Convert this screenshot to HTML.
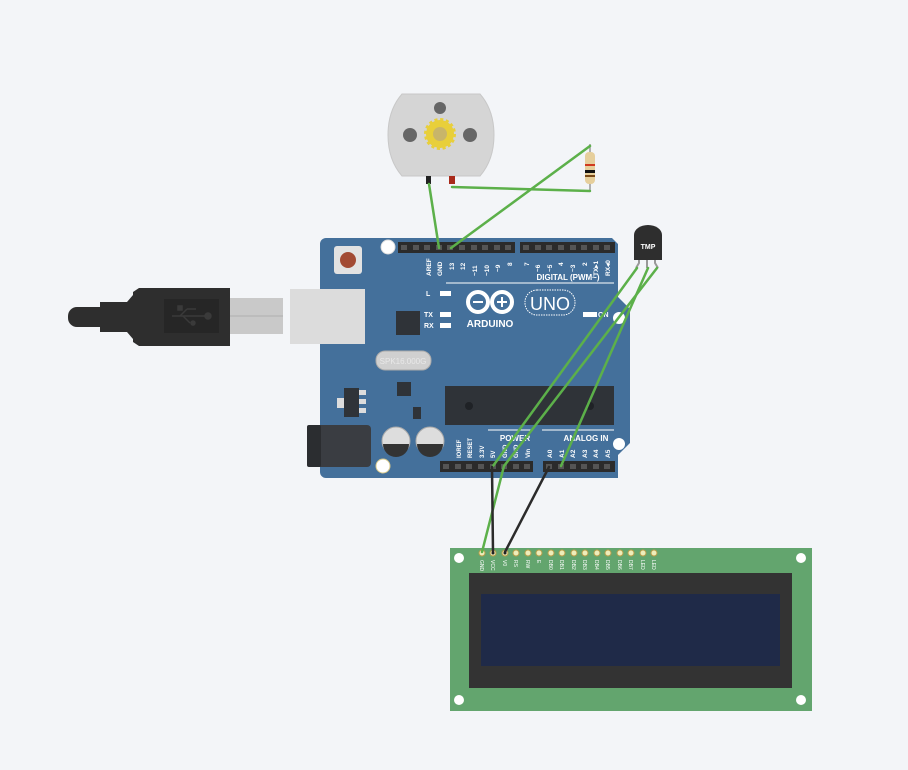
<!DOCTYPE html>
<html><head><meta charset="utf-8"><style>
html,body{margin:0;padding:0;background:#f3f5f8;}
svg{display:block;font-family:"Liberation Sans",sans-serif;}
</style></head><body>
<svg width="908" height="770" viewBox="0 0 908 770">
<rect width="908" height="770" fill="#f3f5f8"/>

<!-- USB cable -->
<path d="M68,316 a9,9 0 0 1 9,-9 h23 v-5 h27 l6,-7 v-3 l6,-4 h91 v58 h-91 l-6,-4 v-3 l-6,-7 h-27 v-5 h-23 a9,9 0 0 1 -9,-9z" fill="#2e2e2e"/>
<rect x="164" y="299" width="55" height="34" fill="#262626"/>
<g stroke="#3a3a3a" stroke-width="1.5" fill="#3a3a3a">
<line x1="172" y1="316" x2="208" y2="316"/><circle cx="208" cy="316" r="3"/>
<line x1="180" y1="316" x2="187" y2="309"/><line x1="187" y1="309" x2="196" y2="309"/><rect x="178" y="306" width="4" height="4"/>
<line x1="183" y1="316" x2="190" y2="323"/><circle cx="193" cy="323" r="2"/></g>
<rect x="230" y="298" width="53" height="36" fill="#c9c9c9"/>
<line x1="230" y1="316" x2="283" y2="316" stroke="#b0b0b0"/>

<!-- Arduino board -->
<path d="M326,238 H612 l6,6 V297 l12,12 V443 l-12,12 V478 H326 a6,6 0 0 1 -6,-6 V244 a6,6 0 0 1 6,-6z" fill="#44709b"/>
<rect x="290" y="289" width="75" height="55" fill="#dcdcdc"/>
<rect x="334" y="246" width="28" height="28" rx="3" fill="#e2e2e2"/>
<circle cx="348" cy="260" r="8" fill="#a24a33"/>
<circle cx="388" cy="247" r="7" fill="#fff" stroke="#ddd"/>
<circle cx="619" cy="318" r="6" fill="#fff"/>
<circle cx="619" cy="444" r="6" fill="#fff"/>
<circle cx="383" cy="466" r="7" fill="#fff" stroke="#d8c98a"/>
<rect x="396" y="311" width="24" height="24" fill="#2f3338"/>
<rect x="376" y="351" width="55" height="19" rx="9" fill="#d0d0d0" stroke="#aaa"/>
<text x="403" y="364" font-size="8" fill="#e8e8e8" text-anchor="middle">SPK16.000G</text>
<rect x="397" y="382" width="14" height="14" fill="#2f3338"/>
<rect x="344" y="388" width="15" height="29" fill="#2f3338"/>
<rect x="337" y="398" width="7" height="10" fill="#ddd"/>
<rect x="359" y="390" width="7" height="5" fill="#ddd"/><rect x="359" y="399" width="7" height="5" fill="#ddd"/><rect x="359" y="408" width="7" height="5" fill="#ddd"/>
<rect x="413" y="407" width="8" height="12" fill="#2f3338"/>
<rect x="307" y="425" width="64" height="42" rx="4" fill="#3a3d42"/>
<rect x="307" y="425" width="14" height="42" rx="2" fill="#2b2d30"/>
<circle cx="396" cy="441" r="14" fill="#ddd" stroke="#aaa"/>
<path d="M383,444 a13,13 0 0 0 26,0z" fill="#333"/>
<circle cx="430" cy="441" r="14" fill="#ddd" stroke="#aaa"/>
<path d="M417,444 a13,13 0 0 0 26,0z" fill="#333"/>
<rect x="445" y="386" width="169" height="39" fill="#2f3338"/>
<circle cx="469" cy="406" r="4" fill="#1f2226"/><circle cx="590" cy="406" r="4" fill="#1f2226"/>
<g fill="#fff"><rect x="440" y="291" width="11" height="5"/><rect x="440" y="312" width="11" height="5"/><rect x="440" y="323" width="11" height="5"/><rect x="583" y="312" width="14" height="5"/></g>
<g fill="#fff" font-size="7" font-weight="bold"><text x="426" y="296">L</text><text x="424" y="317">TX</text><text x="424" y="328">RX</text><text x="598" y="317">ON</text></g>
<!-- logo -->
<g fill="none" stroke="#fff" stroke-width="4"><circle cx="478" cy="302" r="10"/><circle cx="502" cy="302" r="10"/></g>
<g stroke="#fff" stroke-width="2"><line x1="473" y1="302" x2="483" y2="302"/><line x1="497" y1="302" x2="507" y2="302"/><line x1="502" y1="297" x2="502" y2="307"/></g>
<text x="490" y="327" font-size="10" font-weight="bold" fill="#fff" text-anchor="middle">ARDUINO</text>
<rect x="525" y="290" width="50" height="25" rx="12" fill="none" stroke="#fff" stroke-dasharray="1.5 1"/>
<text x="550" y="310" font-size="18" fill="#fff" text-anchor="middle">UNO</text>
<line x1="446" y1="283" x2="614" y2="283" stroke="#fff"/>
<text x="568" y="280" font-size="8" font-weight="bold" fill="#fff" text-anchor="middle">DIGITAL (PWM~)</text>
<line x1="488" y1="430" x2="532" y2="430" stroke="#fff"/><line x1="542" y1="430" x2="614" y2="430" stroke="#fff"/>
<text x="515" y="441" font-size="8" font-weight="bold" fill="#fff" text-anchor="middle">POWER</text>
<text x="586" y="441" font-size="8" font-weight="bold" fill="#fff" text-anchor="middle">ANALOG IN</text>
<!-- headers -->
<rect x="398" y="242" width="117" height="11" fill="#2b2b2b"/>
<rect x="520" y="242" width="95" height="11" fill="#2b2b2b"/>
<rect x="440" y="461" width="93" height="11" fill="#2b2b2b"/>
<rect x="543" y="461" width="72" height="11" fill="#2b2b2b"/>
<g fill="#555">
<rect x="401" y="245" width="6" height="5"/><rect x="413" y="245" width="6" height="5"/><rect x="424" y="245" width="6" height="5"/><rect x="436" y="245" width="6" height="5"/><rect x="447" y="245" width="6" height="5"/><rect x="459" y="245" width="6" height="5"/><rect x="471" y="245" width="6" height="5"/><rect x="482" y="245" width="6" height="5"/><rect x="494" y="245" width="6" height="5"/><rect x="505" y="245" width="6" height="5"/>
<rect x="523" y="245" width="6" height="5"/><rect x="535" y="245" width="6" height="5"/><rect x="546" y="245" width="6" height="5"/><rect x="558" y="245" width="6" height="5"/><rect x="570" y="245" width="6" height="5"/><rect x="581" y="245" width="6" height="5"/><rect x="593" y="245" width="6" height="5"/><rect x="604" y="245" width="6" height="5"/>
<rect x="443" y="464" width="6" height="5"/><rect x="455" y="464" width="6" height="5"/><rect x="466" y="464" width="6" height="5"/><rect x="478" y="464" width="6" height="5"/><rect x="490" y="464" width="6" height="5"/><rect x="501" y="464" width="6" height="5"/><rect x="513" y="464" width="6" height="5"/><rect x="524" y="464" width="6" height="5"/>
<rect x="546" y="464" width="6" height="5"/><rect x="558" y="464" width="6" height="5"/><rect x="570" y="464" width="6" height="5"/><rect x="581" y="464" width="6" height="5"/><rect x="593" y="464" width="6" height="5"/><rect x="604" y="464" width="6" height="5"/>
</g>
<g fill="#fff" font-size="6.5" font-weight="bold">
<text transform="translate(431,276) rotate(-90)">AREF</text><text transform="translate(442,276) rotate(-90)">GND</text><text transform="translate(454,270) rotate(-90)">13</text><text transform="translate(465,270) rotate(-90)">12</text><text transform="translate(477,276) rotate(-90)">~11</text><text transform="translate(489,276) rotate(-90)">~10</text><text transform="translate(500,272) rotate(-90)">~9</text><text transform="translate(512,266) rotate(-90)">8</text>
<text transform="translate(529,266) rotate(-90)">7</text><text transform="translate(540,272) rotate(-90)">~6</text><text transform="translate(552,272) rotate(-90)">~5</text><text transform="translate(563,266) rotate(-90)">4</text><text transform="translate(575,272) rotate(-90)">~3</text><text transform="translate(587,266) rotate(-90)">2</text><text transform="translate(598,276) rotate(-90)">TX▸1</text><text transform="translate(610,276) rotate(-90)">RX◂0</text>
<text transform="translate(461,458) rotate(-90)" font-size="6">IOREF</text><text transform="translate(472,458) rotate(-90)" font-size="6">RESET</text><text transform="translate(484,458) rotate(-90)" font-size="6">3.3V</text><text transform="translate(495,458) rotate(-90)" font-size="6">5V</text><text transform="translate(507,458) rotate(-90)" font-size="6">GND</text><text transform="translate(518,458) rotate(-90)" font-size="6">GND</text><text transform="translate(530,458) rotate(-90)" font-size="6">Vin</text>
<text transform="translate(552,458) rotate(-90)">A0</text><text transform="translate(564,458) rotate(-90)">A1</text><text transform="translate(575,458) rotate(-90)">A2</text><text transform="translate(587,458) rotate(-90)">A3</text><text transform="translate(598,458) rotate(-90)">A4</text><text transform="translate(610,458) rotate(-90)">A5</text>
</g>

<!-- Motor -->
<path d="M402,94 H480 Q494,110 494,135 Q494,160 480,176 H402 Q388,160 388,135 Q388,110 402,94z" fill="#d5d5d5" stroke="#c8c8c8"/>
<circle cx="440" cy="108" r="6" fill="#666"/><circle cx="410" cy="135" r="7" fill="#666"/><circle cx="470" cy="135" r="7" fill="#666"/>
<circle cx="440" cy="134" r="14" fill="#e8cf3a" stroke="#e8cf3a" stroke-width="4" stroke-dasharray="3 2.5"/>
<circle cx="440" cy="134" r="7" fill="#c8b56a"/>
<rect x="426" y="176" width="5" height="8" fill="#222"/>
<rect x="449" y="176" width="6" height="8" fill="#a82a1a"/>

<!-- Resistor -->
<line x1="590" y1="144" x2="590" y2="191" stroke="#999" stroke-width="1.5"/>
<rect x="585" y="152" width="10" height="32" rx="4" fill="#e6cf9c"/>
<rect x="585" y="164" width="10" height="2" fill="#d03a20"/><rect x="585" y="170" width="10" height="3" fill="#111"/><rect x="585" y="175" width="10" height="2" fill="#7a4a1a"/>

<!-- TMP -->
<g stroke="#999" stroke-width="2" fill="none"><path d="M639,258 v5 l-3,5"/><path d="M647,258 v10"/><path d="M655,258 v5 l3,5"/></g>
<path d="M634,235 a14,10 0 0 1 28,0 v25 h-28z" fill="#2e2e2e"/>
<text x="648" y="249" font-size="7" font-weight="bold" fill="#fff" text-anchor="middle">TMP</text>

<!-- LCD -->
<rect x="450" y="548" width="362" height="163" fill="#63a56e"/>
<circle cx="459" cy="558" r="5" fill="#fff"/><circle cx="801" cy="558" r="5" fill="#fff"/><circle cx="459" cy="700" r="5" fill="#fff"/><circle cx="801" cy="700" r="5" fill="#fff"/>
<rect x="469" y="573" width="323" height="115" fill="#333"/>
<rect x="481" y="594" width="299" height="72" fill="#1f2a48"/>
<g fill="#eeeebb" stroke="#b89e4a" stroke-width="1">
<circle cx="482" cy="553" r="3"/><circle cx="493" cy="553" r="3"/><circle cx="505" cy="553" r="3"/><circle cx="516" cy="553" r="3"/><circle cx="528" cy="553" r="3"/><circle cx="539" cy="553" r="3"/><circle cx="551" cy="553" r="3"/><circle cx="562" cy="553" r="3"/><circle cx="574" cy="553" r="3"/><circle cx="585" cy="553" r="3"/><circle cx="597" cy="553" r="3"/><circle cx="608" cy="553" r="3"/><circle cx="620" cy="553" r="3"/><circle cx="631" cy="553" r="3"/><circle cx="643" cy="553" r="3"/><circle cx="654" cy="553" r="3"/></g>
<g fill="#fff" font-size="5">
<text transform="translate(480,560) rotate(90)">GND</text><text transform="translate(491,560) rotate(90)">VCC</text><text transform="translate(503,560) rotate(90)">V0</text><text transform="translate(514,560) rotate(90)">RS</text><text transform="translate(526,560) rotate(90)">RW</text><text transform="translate(537,560) rotate(90)">E</text><text transform="translate(549,560) rotate(90)">DB0</text><text transform="translate(560,560) rotate(90)">DB1</text><text transform="translate(572,560) rotate(90)">DB2</text><text transform="translate(583,560) rotate(90)">DB3</text><text transform="translate(595,560) rotate(90)">DB4</text><text transform="translate(606,560) rotate(90)">DB5</text><text transform="translate(618,560) rotate(90)">DB6</text><text transform="translate(629,560) rotate(90)">DB7</text><text transform="translate(641,560) rotate(90)">LED</text><text transform="translate(652,560) rotate(90)">LED</text></g>

<!-- Wires -->
<g stroke="#5cb04a" stroke-width="2.5" fill="none" stroke-linecap="round">
<line x1="429" y1="184" x2="439" y2="248"/>
<line x1="452" y1="187" x2="590" y2="191"/>
<line x1="590" y1="146" x2="451" y2="248"/>
<line x1="637" y1="268" x2="493" y2="466"/>
<line x1="657" y1="268" x2="504" y2="466"/>
<line x1="648" y1="268" x2="561" y2="466"/>
<line x1="504" y1="466" x2="482" y2="552"/>
</g>
<g stroke="#2b2b2b" stroke-width="2.5" fill="none" stroke-linecap="round">
<line x1="492" y1="467" x2="493" y2="552"/>
<line x1="549" y1="467" x2="505" y2="552"/>
</g>
<circle cx="493" cy="553" r="1.5" fill="#222"/><circle cx="505" cy="553" r="1.5" fill="#222"/>
</svg>
</body></html>
